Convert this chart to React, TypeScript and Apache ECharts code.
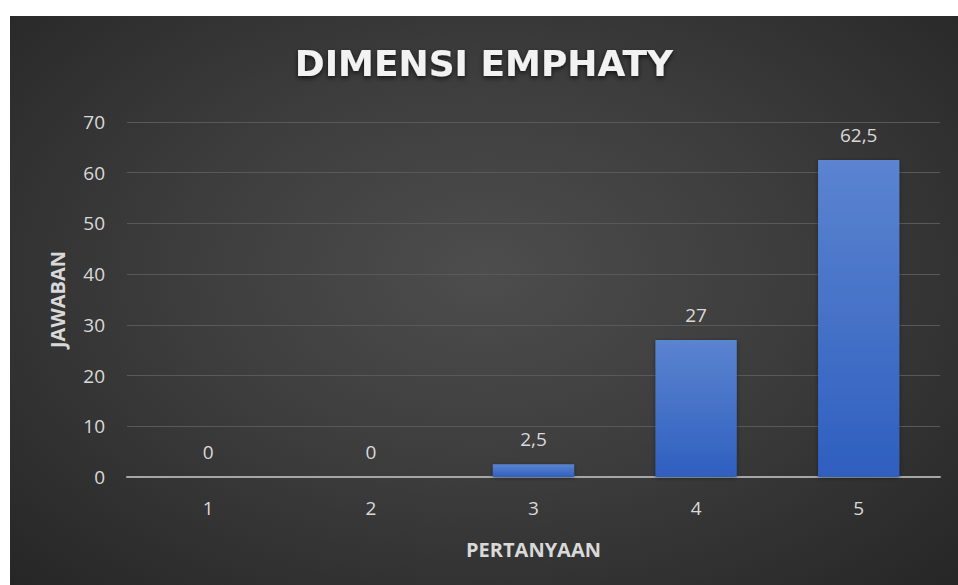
import React, { useEffect, useRef } from "react";
import * as echarts from "echarts";

const categories = ["1", "2", "3", "4", "5"];
const values = [0, 0, 2.5, 27, 62.5];
const titleText = "DIMENSI EMPHATY";
const xName = "PERTANYAAN";
const yName = "JAWABAN";

export default function App() {
  const ref = useRef<HTMLDivElement>(null);
  useEffect(() => {
    if (!ref.current) return;
    const chart = echarts.init(ref.current, undefined, { renderer: "svg" });
    const font = "'Open Sans', 'Noto Sans', sans-serif";
    chart.setOption({
      animation: false,
      title: {
        text: titleText,
        left: "center",
        top: 24,
        padding: [5, 0, 5, 21],
        textStyle: {
          color: "#f2f2f2",
          fontSize: 36,
          fontWeight: "bold",
          fontFamily: "'DejaVu Sans', sans-serif",
          textShadowColor: "rgba(0,0,0,0.7)",
          textShadowBlur: 5,
          textShadowOffsetY: 2,
        },
      },
      grid: { left: 117, right: 18, top: 106, bottom: 108 },
      xAxis: {
        type: "category",
        data: categories,
        name: xName,
        nameLocation: "middle",
        nameGap: 62,
        nameTextStyle: { color: "#d9d9d9", fontSize: 20, fontWeight: "bold", fontFamily: font },
        axisLine: { lineStyle: { color: "#a6a6a6", width: 2 } },
        axisTick: { show: false },
        axisLabel: { color: "#d9d9d9", fontSize: 19, fontFamily: font, margin: 21 },
      },
      yAxis: {
        type: "value",
        min: 0,
        max: 70,
        interval: 10,
        name: yName,
        nameLocation: "middle",
        nameRotate: 90,
        nameGap: 60,
        nameTextStyle: { color: "#d9d9d9", fontSize: 20, fontWeight: "bold", fontFamily: font },
        axisLine: { show: false },
        axisTick: { show: false },
        axisLabel: { color: "#d9d9d9", fontSize: 19, fontFamily: font, margin: 22 },
        splitLine: { lineStyle: { color: "#595959", width: 1 } },
      },
      series: [
        {
          type: "bar",
          data: values,
          barWidth: "50%",
          itemStyle: {
            color: new echarts.graphic.LinearGradient(0, 0, 0, 1, [
              { offset: 0, color: "#5b84d0" },
              { offset: 1, color: "#2f5fbf" },
            ]),
            shadowColor: "rgba(0,0,0,0.4)",
            shadowBlur: 4,
            shadowOffsetY: 1,
          },
          label: {
            show: true,
            position: "top",
            distance: 16,
            color: "#d9d9d9",
            fontSize: 19,
            fontFamily: font,
            formatter: (p: any) => String(p.value).replace(".", ","),
          },
        },
      ],
    });
    return () => chart.dispose();
  }, []);
  return (
    <div style={{ position: "fixed", left: 0, top: 0, width: 958, height: 585, background: "#ffffff" }}>
      <div
        ref={ref}
        style={{
          position: "absolute",
          left: 10,
          top: 16,
          width: 948,
          height: 569,
          background: "radial-gradient(ellipse at 50% 45%, #4d4d4d 0%, #3d3d3d 45%, #262626 100%)",
        }}
      />
    </div>
  );
}
